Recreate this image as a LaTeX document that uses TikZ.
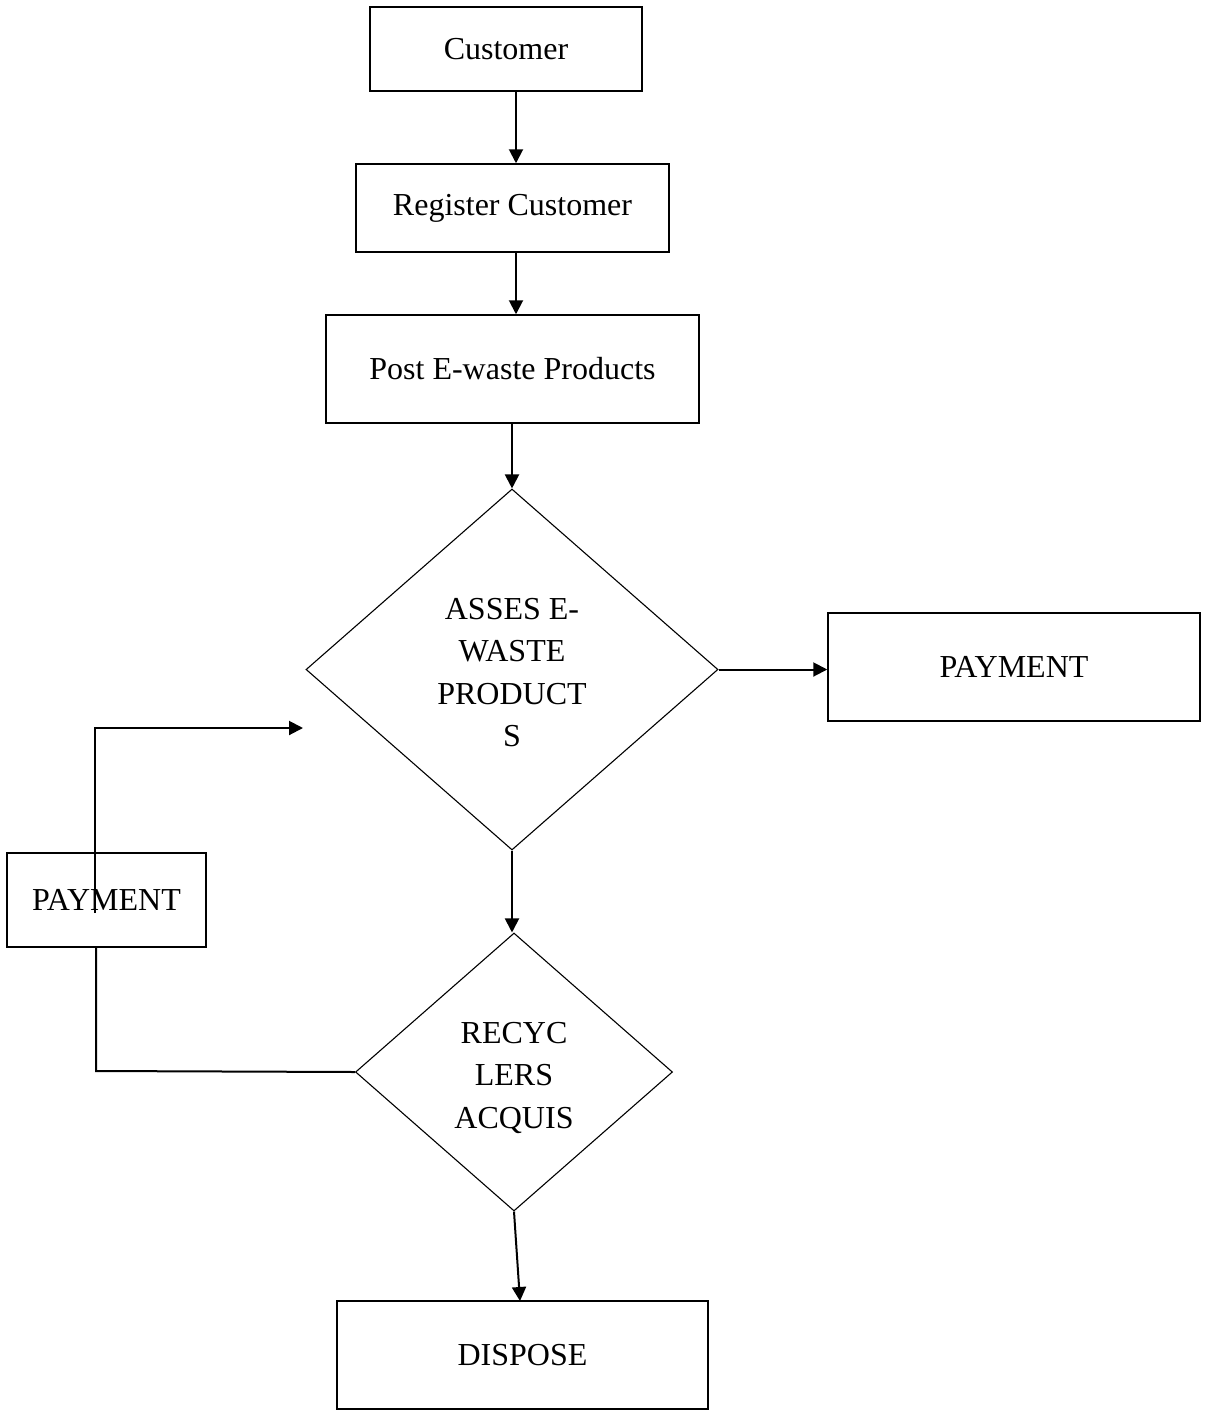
\documentclass[tikz,border=0pt]{standalone}
\usepackage{fontspec}
\setmainfont{Liberation Serif}
\usetikzlibrary{shapes.geometric,arrows.meta}
% stacked lines inside a decision, set a little below the shape's centre
\newcommand{\decisiontext}[1]{\raisebox{-5pt}[\height][\depth]{\begin{tabular}{@{}c@{}}#1\end{tabular}}}
\begin{document}
\begin{tikzpicture}[x=1pt,y=-1pt,
  every node/.style={font=\fontsize{32}{41.5}\selectfont},
  procbox/.style={draw,line width=1.5pt,rectangle,inner sep=0pt},
  decision/.style={draw,line width=1.1pt,diamond,inner sep=0pt,
    font=\fontsize{32}{42.5}\selectfont},
  conn/.style={line width=2pt},
  flow/.style={conn,-{Triangle[length=14pt,width=14pt]}}]
\useasboundingbox (0,0) rectangle (1209,1416);

% process boxes
\node[procbox,minimum width=272pt,minimum height=84pt]  (cust) at (506,49)   {Customer};
\node[procbox,minimum width=313pt,minimum height=88pt]  (reg)  at (512.5,208) {Register Customer};
\node[procbox,minimum width=373pt,minimum height=108pt] (post) at (512.5,369) {Post E-waste Products};
\node[procbox,minimum width=372pt,minimum height=108pt] (payr) at (1014,667)  {PAYMENT};
\node[procbox,minimum width=199pt,minimum height=94pt]  (payl) at (106.5,900) {PAYMENT};
\node[procbox,minimum width=371pt,minimum height=108pt] (disp) at (522.5,1355) {DISPOSE};

% decisions
\node[decision,minimum width=412pt,minimum height=361pt] (assess) at (512,669.5)
  {\decisiontext{ASSES E-\\WASTE\\PRODUCT\\S}};
\node[decision,minimum width=317pt,minimum height=278pt] (recyc) at (514,1072)
  {\decisiontext{RECYC\\LERS\\ACQUIS}};

% main flow
\draw[flow] (cust.south -| 516,0) -- (reg.north -| 516,0);
\draw[flow] (reg.south -| 516,0) -- (post.north -| 516,0);
\draw[flow] (post.south -| assess.north) -- (assess.north);
\draw[flow] (assess.east) -- (payr.west |- assess.east);
\draw[flow] (assess.south) -- (assess.south |- recyc.north);
\coordinate (dispin) at (520,1301);
\draw[flow] (recyc.south) -- (dispin);

% loop back through the left payment box
\coordinate (lowbend) at (96,1071);
\draw[conn] (recyc.west) -- (lowbend) -- (lowbend |- payl.south);
\coordinate (loopstart) at (95,913);
\coordinate (loopbend) at (95,728);
\coordinate (loopend) at (303,728);
\draw[flow] (loopstart) -- (loopbend) -- (loopend);
\end{tikzpicture}
\end{document}
